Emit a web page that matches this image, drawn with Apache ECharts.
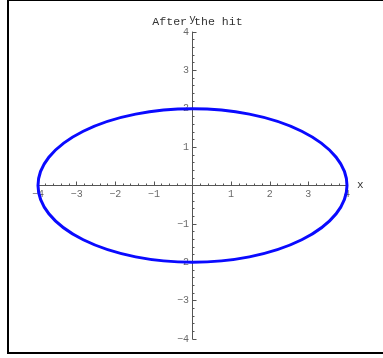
<!DOCTYPE html>
<html>
<head>
<meta charset="utf-8">
<script src="https://cdn.jsdelivr.net/npm/echarts@6/dist/echarts.min.js"></script>
<style>
  html, body { margin: 0; padding: 0; background: #fff; }
  #chart { width: 383px; height: 358px; }
</style>
</head>
<body>
<div id="chart"></div>
<script>
// Orbit after the hit: ellipse centred on the origin
const titleText = 'After the hit';
const ellipseCenter = [0, 0];
const ellipseSemiAxes = [4, 2];      // semi-axis along x, semi-axis along y
const xTicks = [-4, -3, -2, -1, 0, 1, 2, 3, 4];
const yTicks = [-4, -3, -2, -1, 0, 1, 2, 3, 4];

const MONO = '"Liberation Mono", "DejaVu Sans Mono", monospace';
const AXIS_GREY = '#555';
const LABEL_GREY = '#444';

function tickLabel(v) {
  if (v === 0) return '';
  return v < 0 ? '\u2212' + Math.abs(v) : String(v);
}

const chart = echarts.init(document.getElementById('chart'), null, { renderer: 'canvas' });

const axisCommon = {
  type: 'value',
  interval: 1,
  axisLine: { onZero: true, lineStyle: { color: AXIS_GREY, width: 1 } },
  axisTick: { inside: true, length: 4, lineStyle: { color: AXIS_GREY } },
  minorTick: { show: true, splitNumber: 5, length: 2, lineStyle: { color: AXIS_GREY } },
  splitLine: { show: false },
  minorSplitLine: { show: false },
  // tick numbers are drawn by the label series so they sit on the crossing axes
  axisLabel: { show: false }
};

// tick-number carriers: one invisible point per tick, positioned through the axes
function tickLabelSeries(points, position, distance) {
  return {
    type: 'scatter',
    data: points,
    symbolSize: 1,
    silent: true,
    z: 5,
    itemStyle: { color: 'rgba(0,0,0,0)' },
    label: {
      show: true,
      position: position,
      distance: distance,
      color: LABEL_GREY,
      fontFamily: MONO,
      fontSize: 10,
      formatter: function (p) { return tickLabel(p.value[2]); }
    }
  };
}

const xLabelPoints = xTicks.filter(v => v !== 0).map(v => [v, 0, v]);
const yLabelPoints = yTicks.filter(v => v !== 0).map(v => [0, v, v]);

chart.setOption({
  animation: false,
  backgroundColor: '#fff',
  title: {
    text: titleText,
    left: 192.5,
    top: 11,
    textAlign: 'center',
    textStyle: { fontFamily: MONO, fontSize: 11.6, fontWeight: 'normal', color: '#333' }
  },
  grid: { left: 38, right: 36, top: 32, bottom: 19 },
  xAxis: Object.assign({}, axisCommon, {
    min: xTicks[0], max: xTicks[xTicks.length - 1],
    name: 'x',
    nameGap: 10,
    nameTextStyle: { fontFamily: MONO, fontSize: 11, color: '#333', verticalAlign: 'middle' }
  }),
  yAxis: Object.assign({}, axisCommon, {
    min: yTicks[0], max: yTicks[yTicks.length - 1],
    name: 'y',
    nameGap: 7,
    nameTextStyle: { fontFamily: MONO, fontSize: 11, color: '#333', align: 'center' }
  }),
  series: [
    {
      type: 'custom',
      coordinateSystem: 'cartesian2d',
      data: [[ellipseCenter[0], ellipseCenter[1], ellipseSemiAxes[0], ellipseSemiAxes[1]]],
      encode: { x: 0, y: 1 },
      clip: false,
      z: 10,
      renderItem: function (params, api) {
        const c = api.coord([api.value(0), api.value(1)]);
        const size = api.size([api.value(2), api.value(3)]);
        const rx = size[0], ry = size[1];
        const d = 'M ' + (c[0] - rx) + ' ' + c[1] +
          ' A ' + rx + ' ' + ry + ' 0 1 0 ' + (c[0] + rx) + ' ' + c[1] +
          ' A ' + rx + ' ' + ry + ' 0 1 0 ' + (c[0] - rx) + ' ' + c[1] + ' Z';
        return {
          type: 'path',
          shape: { pathData: d },
          style: { fill: null, stroke: '#0a0aff', lineWidth: 3 }
        };
      }
    },
    tickLabelSeries(xLabelPoints, 'bottom', 3),
    tickLabelSeries(yLabelPoints, 'left', 3)
  ],
  graphic: [{
    type: 'rect',
    silent: true,
    z: 100,
    shape: { x: 8, y: 0, width: 400, height: 353 },
    style: { fill: null, stroke: '#000', lineWidth: 2 }
  }]
});
</script>
</body>
</html>
